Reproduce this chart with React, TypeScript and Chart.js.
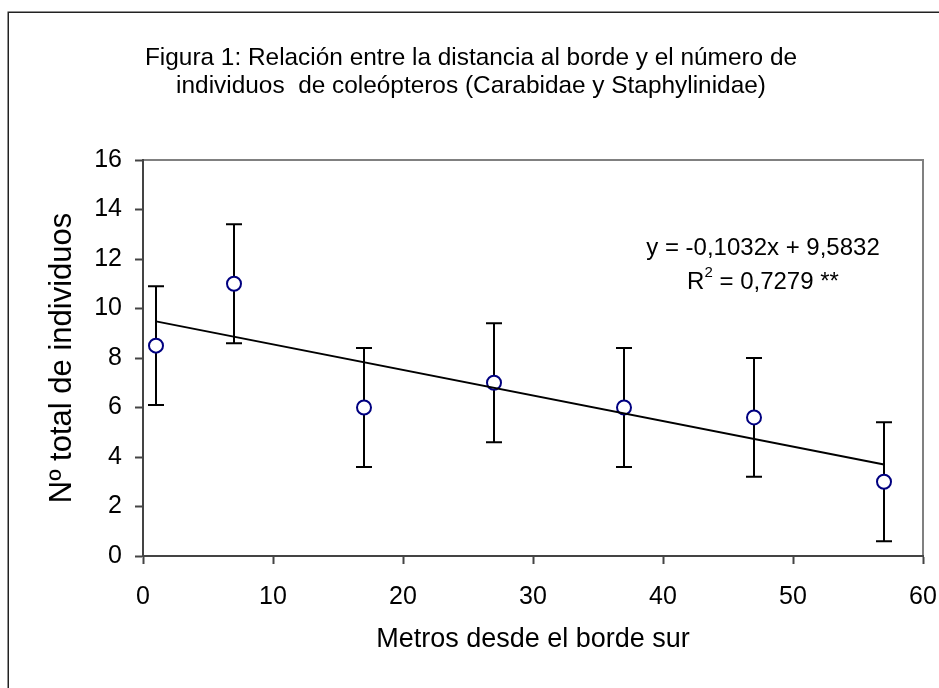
import React, { useEffect, useRef } from "react";
import { Chart, registerables } from "chart.js";

Chart.register(...registerables);

const titleLines = [
  "Figura 1: Relación entre la distancia al borde y el número de",
  "individuos  de coleópteros (Carabidae y Staphylinidae)",
];
const xAxisTitle = "Metros desde el borde sur";
const yAxisTitle = "Nº total de individuos";

const distances = [1, 7, 17, 27, 37, 47, 57];
const meanCounts = [8.5, 11, 6, 7, 6, 5.6, 3];
const errorLow = [6.1, 8.6, 3.6, 4.6, 3.6, 3.2, 0.6];
const errorHigh = [10.9, 13.4, 8.4, 9.4, 8.4, 8.0, 5.4];

const slope = -0.1032;
const intercept = 9.5832;
const trendX = [1, 57];
const equationText = "y = -0,1032x + 9,5832";
const r2Label = "R";
const r2Value = " = 0,7279 **";

const FONT = "'Liberation Sans', Arial, sans-serif";

export default function App() {
  const ref = useRef<HTMLCanvasElement | null>(null);

  useEffect(() => {
    const canvas = ref.current;
    if (!canvas) return;

    const errorBars = {
      id: "errorBars",
      beforeDatasetsDraw(chart: any) {
        const { ctx, scales } = chart;
        const xs = scales.x;
        const ys = scales.y;
        ctx.save();
        ctx.strokeStyle = "#000";
        ctx.lineWidth = 2;
        distances.forEach((d, i) => {
          const px = Math.round(xs.getPixelForValue(d));
          const lo = ys.getPixelForValue(errorLow[i]);
          const hi = ys.getPixelForValue(errorHigh[i]);
          ctx.beginPath();
          ctx.moveTo(px, lo);
          ctx.lineTo(px, hi);
          ctx.moveTo(px - 8, lo);
          ctx.lineTo(px + 8, lo);
          ctx.moveTo(px - 8, hi);
          ctx.lineTo(px + 8, hi);
          ctx.stroke();
        });
        ctx.restore();
      },
    };

    const frame = {
      id: "frame",
      beforeDraw(chart: any) {
        const { ctx, chartArea } = chart;
        ctx.save();
        ctx.fillStyle = "#fff";
        ctx.fillRect(0, 0, chart.width, chart.height);
        ctx.strokeStyle = "#222";
        ctx.lineWidth = 1.5;
        ctx.strokeRect(8.25, 12.25, chart.width + 20, chart.height + 20);
        ctx.strokeStyle = "#808080";
        ctx.lineWidth = 2;
        ctx.beginPath();
        ctx.moveTo(chartArea.left, chartArea.top);
        ctx.lineTo(chartArea.right, chartArea.top);
        ctx.lineTo(chartArea.right, chartArea.bottom);
        ctx.stroke();
        ctx.restore();
      },
      afterDraw(chart: any) {
        const { ctx, chartArea } = chart;
        ctx.save();
        ctx.fillStyle = "#000";
        ctx.font = `24px ${FONT}`;
        ctx.textBaseline = "middle";
        ctx.textAlign = "center";
        const cx = chartArea.right - 160;
        ctx.fillText(equationText, cx, chartArea.top + 88);
        const rW = ctx.measureText(r2Label).width;
        ctx.font = `15px ${FONT}`;
        const supW = ctx.measureText("2").width;
        ctx.font = `24px ${FONT}`;
        const vW = ctx.measureText(r2Value).width;
        const total = rW + supW + vW;
        let x = cx - total / 2;
        const y2 = chartArea.top + 122;
        ctx.textAlign = "left";
        ctx.fillText(r2Label, x, y2);
        x += rW;
        ctx.font = `15px ${FONT}`;
        ctx.fillText("2", x, y2 - 9);
        x += supW;
        ctx.font = `24px ${FONT}`;
        ctx.fillText(r2Value, x, y2);
        ctx.restore();
      },
    };

    const chart = new Chart(canvas, {
      type: "scatter",
      data: {
        datasets: [
          {
            type: "line",
            label: "Tendencia",
            data: trendX.map((x) => ({ x, y: slope * x + intercept })),
            borderColor: "#000",
            borderWidth: 2,
            pointRadius: 0,
            fill: false,
          },
          {
            label: "Individuos",
            data: distances.map((x, i) => ({ x, y: meanCounts[i] })),
            pointRadius: 7,
            pointBorderWidth: 2,
            pointBorderColor: "#000080",
            pointBackgroundColor: "#fff",
            pointStyle: "circle",
          },
        ],
      },
      options: {
        responsive: false,
        animation: false,
        devicePixelRatio: 1,
        layout: { padding: { left: 19, right: 16, top: 0, bottom: 0 } },
        plugins: {
          legend: { display: false },
          tooltip: { enabled: false },
          title: {
            display: true,
            text: titleLines,
            color: "#000",
            font: { family: FONT, size: 24.4, weight: "normal", lineHeight: 28 / 24.4 },
            padding: { top: 44, bottom: 60 },
          },
        },
        scales: {
          x: {
            type: "linear",
            min: 0,
            max: 60,
            afterFit: (s: any) => {
              s.height = 132;
              s.paddingRight = 0;
              s.paddingLeft = 0;
            },
            ticks: {
              stepSize: 10,
              color: "#000",
              padding: 18,
              font: { family: FONT, size: 25 },
            },
            grid: {
              drawOnChartArea: false,
              drawTicks: true,
              tickLength: 8,
              tickColor: "#444",
              tickWidth: 2,
            },
            border: { display: true, color: "#444", width: 2 },
            title: {
              display: true,
              text: xAxisTitle,
              color: "#000",
              font: { family: FONT, size: 27 },
              padding: { top: 0, bottom: 32 },
            },
          },
          y: {
            type: "linear",
            min: 0,
            max: 16,
            afterFit: (s: any) => {
              s.width = 124;
              s.paddingTop = 0;
              s.paddingBottom = 0;
            },
            ticks: {
              stepSize: 2,
              color: "#000",
              padding: 13,
              font: { family: FONT, size: 25 },
            },
            grid: {
              drawOnChartArea: false,
              drawTicks: true,
              tickLength: 8,
              tickColor: "#444",
              tickWidth: 2,
            },
            border: { display: true, color: "#444", width: 2 },
            title: {
              display: true,
              text: yAxisTitle,
              color: "#000",
              font: { family: FONT, size: 31 },
              padding: { top: 25, bottom: 0 },
            },
          },
        },
      },
      plugins: [frame, errorBars],
    });

    return () => chart.destroy();
  }, []);

  return (
    <div style={{ position: "absolute", left: 0, top: 0, width: 939, height: 688 }}>
      <canvas ref={ref} width={939} height={688} style={{ display: "block" }} />
    </div>
  );
}
